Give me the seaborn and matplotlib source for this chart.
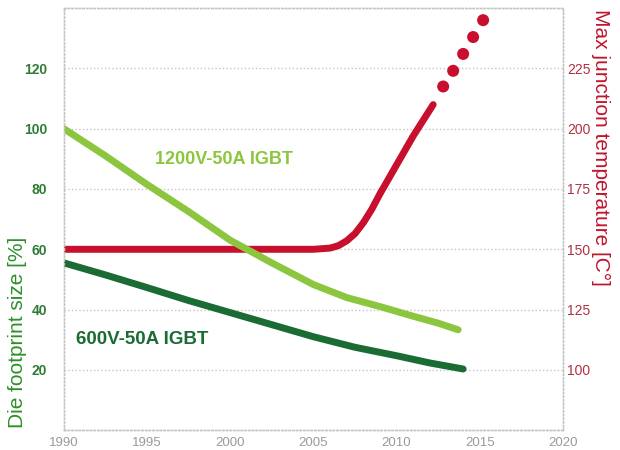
import pandas as pd
import seaborn as sns
import matplotlib.pyplot as plt

# --- data ---
years_1200 = [1990, 1992.5, 1995, 1997.5, 2000, 2002.5, 2005, 2007, 2009, 2011, 2012.5, 2013.7]
size_1200 = [100, 91, 81.5, 72.5, 63, 55.5, 48.3, 44, 41, 37.8, 35.5, 33.3]

years_600 = [1990, 1992.5, 1995, 1997.5, 2000, 2002.5, 2005, 2007.5, 2010, 2012, 2014]
size_600 = [55.5, 51.5, 47.3, 43, 39, 35, 31, 27.5, 24.7, 22.3, 20.3]

years_tj = [1990, 1995, 2000, 2005, 2006, 2006.5, 2007, 2007.5, 2008, 2008.5,
            2009, 2010, 2011, 2012.2]
temp_tj = [150, 150, 150, 150, 150.5, 151.5, 153.5, 156.5, 161, 166.5,
           173, 185, 197, 210]

years_tj_future = [2012.8, 2013.4, 2014.0, 2014.6, 2015.2]
temp_tj_future = [217.5, 224, 231, 238, 245]

x_ticks = [1990, 1995, 2000, 2005, 2010, 2015, 2020]
left_ticks = [20, 40, 60, 80, 100, 120]
right_ticks = [100, 125, 150, 175, 200, 225]

light_green = '#8cc63f'
dark_green = '#1a6b34'
red = '#c8102e'

sns.set_style("white")
plt.rcParams['font.family'] = ['Liberation Sans Narrow', 'Liberation Sans', 'DejaVu Sans']

df_1200 = pd.DataFrame({'year': years_1200, 'size': size_1200})
df_600 = pd.DataFrame({'year': years_600, 'size': size_600})
df_tj = pd.DataFrame({'year': years_tj, 'temp': temp_tj})
df_fut = pd.DataFrame({'year': years_tj_future, 'temp': temp_tj_future})

fig = plt.figure(figsize=(6.2, 4.5), dpi=100)
fig.patch.set_facecolor('white')
ax = fig.add_axes([0.103, 0.044, 0.805, 0.938])
ax2 = ax.twinx()

# red temperature axis sits below the green one
ax.set_zorder(ax2.get_zorder() + 1)
ax.patch.set_visible(False)
ax2.patch.set_facecolor('#fcfcfc')

# --- temperature (right axis) ---
sns.lineplot(data=df_tj, x='year', y='temp', ax=ax2, color=red,
             linewidth=5, solid_capstyle='round', solid_joinstyle='round')
sns.scatterplot(data=df_fut, x='year', y='temp', ax=ax2, color=red,
                s=75, edgecolor='none')

# --- die size (left axis) ---
sns.lineplot(data=df_1200, x='year', y='size', ax=ax, color=light_green,
             linewidth=5, solid_capstyle='round', solid_joinstyle='round')
sns.lineplot(data=df_600, x='year', y='size', ax=ax, color=dark_green,
             linewidth=5, solid_capstyle='round', solid_joinstyle='round')

ax.set_xlim(1990, 2020)
ax.set_ylim(0, 140)
ax2.set_ylim(75, 250)

ax.set_xticks(x_ticks)
ax.set_yticks(left_ticks)
ax2.set_yticks(right_ticks)

ax.tick_params(axis='x', length=0, pad=5, labelsize=9.5, labelcolor='#9a9a9a')
ax.tick_params(axis='y', length=0, pad=12, labelsize=10, labelcolor='#2f7d34')
ax2.tick_params(axis='y', length=0, pad=3, labelsize=10, labelcolor='#b03040')
for lbl in ax.get_yticklabels():
    lbl.set_fontweight('bold')

# grid drawn on the lower axis so every curve is above it
ax2.grid(True, color='#c4c4c4', linestyle=':', linewidth=1)
ax2.xaxis.grid(True, color='#c4c4c4', linestyle=':', linewidth=1)
ax.grid(False)

for a in (ax, ax2):
    for sp in a.spines.values():
        sp.set_color('#c4c4c4')
        sp.set_linestyle(':')
        sp.set_linewidth(1)

ax.set_xlabel('')
ax.set_ylabel('')
ax2.set_ylabel('')

ax.text(1999.6, 89.7, '1200V-50A IGBT', color=light_green, fontsize=13,
        fontweight='bold', ha='center', va='center')
ax.text(1994.7, 30, '600V-50A IGBT', color=dark_green, fontsize=13.5,
        fontweight='bold', ha='center', va='center')

fig.text(0.029, 0.05, 'Die footprint size [%]', rotation=90, ha='center',
         va='bottom', fontsize=15, color='#2e8f2a')
fig.text(0.969, 0.98, 'Max junction temperature [C°]', rotation=-90,
         ha='center', va='top', fontsize=15, color='#c0142e')

fig.savefig('out.png', dpi=100)
